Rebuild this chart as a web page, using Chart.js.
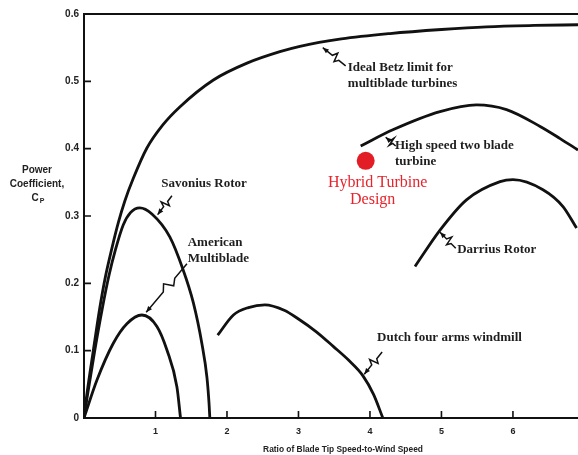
<!DOCTYPE html>
<html>
<head>
<meta charset="utf-8">
<script src="https://cdn.jsdelivr.net/npm/chart.js"></script>
<style>
    html, body { margin: 0; padding: 0; background: #fff; }
    canvas { display: block; }
</style>
</head>
<body>
<canvas id="myChart" width="578" height="455"></canvas>
<script>
// tip speed ratio (x) and power coefficient Cp
const betzX = [0, 0.04, 0.13, 0.22, 0.3, 0.39, 0.48, 0.57, 0.69, 0.88, 1.1, 1.34, 1.81, 2.28, 2.74, 3.02, 3.6, 4.28, 5.0, 5.63, 6.3, 6.91];
const betzCp = [0, 0.035, 0.10, 0.163, 0.21, 0.252, 0.29, 0.322, 0.356, 0.401, 0.435, 0.462, 0.502, 0.527, 0.544, 0.552, 0.563, 0.571, 0.577, 0.581, 0.583, 0.584];

const savoniusX = [0, 0.05, 0.15, 0.26, 0.35, 0.44, 0.55, 0.65, 0.78, 0.95, 1.2, 1.38, 1.53, 1.65, 1.72, 1.75, 1.76];
const savoniusCp = [0, 0.035, 0.10, 0.165, 0.212, 0.25, 0.287, 0.305, 0.312, 0.303, 0.269, 0.222, 0.171, 0.11, 0.06, 0.02, 0];

const americanX = [0, 0.18, 0.41, 0.6, 0.81, 1.02, 1.16, 1.3, 1.35];
const americanCp = [0, 0.056, 0.111, 0.14, 0.153, 0.136, 0.101, 0.046, 0];

const dutchX = [1.87, 2.09, 2.3, 2.53, 2.8, 3.0, 3.25, 3.49, 3.7, 3.9, 4.05, 4.18];
const dutchCp = [0.123, 0.153, 0.164, 0.168, 0.160, 0.147, 0.128, 0.106, 0.086, 0.063, 0.035, 0];

const highSpeedX = [3.87, 4.32, 4.98, 5.49, 5.91, 6.38, 6.66, 6.91];
const highSpeedCp = [0.404, 0.428, 0.455, 0.465, 0.458, 0.433, 0.415, 0.398];

const darriusX = [4.63, 4.98, 5.35, 5.82, 6.0, 6.42, 6.7, 6.89];
const darriusCp = [0.225, 0.279, 0.324, 0.351, 0.354, 0.339, 0.314, 0.282];

const hybridX = [3.94];
const hybridCp = [0.382];

const xTicks = [1, 2, 3, 4, 5, 6];
const yTicks = [0, 0.1, 0.2, 0.3, 0.4, 0.5, 0.6];
const yTickLabels = ['0', '0.1', '0.2', '0.3', '0.4', '0.5', '0.6'];

// curve labels with their pointers (tip on the curve, tail near the text)
const notes = [
    { text: ['Ideal Betz limit for', 'multiblade turbines'], x: 3.69, y: 0.521, tip: [3.34, 0.550], tail: [3.66, 0.523] },
    { text: ['High speed two blade', 'turbine'], x: 4.35, y: 0.405, tip: [4.22, 0.417], tail: [4.36, 0.404] },
    { text: ['Savonius Rotor'], x: 1.08, y: 0.348, tip: [1.03, 0.302], tail: [1.23, 0.330] },
    { text: ['American', 'Multiblade'], x: 1.45, y: 0.260, tip: [0.87, 0.157], tail: [1.44, 0.229] },
    { text: ['Dutch four arms windmill'], x: 4.10, y: 0.120, tip: [3.92, 0.065], tail: [4.17, 0.098] },
    { text: ['Darrius Rotor'], x: 5.22, y: 0.250, tip: [4.98, 0.276], tail: [5.20, 0.252] }
];

function pts(xs, ys) {
    return xs.map(function (x, i) { return { x: x, y: ys[i] }; });
}

function curve(xs, ys) {
    return {
        data: pts(xs, ys),
        showLine: true,
        borderColor: '#111',
        borderWidth: 2.8,
        pointRadius: 0,
        cubicInterpolationMode: 'monotone'
    };
}

function drawPointer(ctx, t, e) {
    const dx = e[0] - t[0], dy = e[1] - t[1];
    const len = Math.hypot(dx, dy);
    const ux = dx / len, uy = dy / len, nx = -uy, ny = ux;
    const steps = [[0, 0], [0.42, 0], [0.52, -5], [0.6, 4], [0.7, 0], [1, 0]];
    ctx.beginPath();
    steps.forEach(function (s, i) {
        const px = t[0] + dx * s[0] + nx * s[1];
        const py = t[1] + dy * s[0] + ny * s[1];
        if (i === 0) ctx.moveTo(px, py); else ctx.lineTo(px, py);
    });
    ctx.stroke();
    // little arrow head at the tip
    ctx.beginPath();
    ctx.moveTo(t[0], t[1]);
    ctx.lineTo(t[0] + ux * 6 + nx * 2.5, t[1] + uy * 6 + ny * 2.5);
    ctx.lineTo(t[0] + ux * 6 - nx * 2.5, t[1] + uy * 6 - ny * 2.5);
    ctx.closePath();
    ctx.fill();
}

const decor = {
    id: 'decor',
    afterDraw(chart) {
        const ctx = chart.ctx;
        const a = chart.chartArea;
        const xs = chart.scales.x, ys = chart.scales.y;
        ctx.save();
        ctx.strokeStyle = '#111';
        ctx.fillStyle = '#111';

        // top frame line
        ctx.lineWidth = 2;
        ctx.beginPath();
        ctx.moveTo(a.left, a.top);
        ctx.lineTo(a.right, a.top);
        ctx.stroke();

        // inner tick marks
        ctx.lineWidth = 1.6;
        ctx.beginPath();
        yTicks.forEach(function (v) {
            if (v === 0 || v === 0.6) return;
            const py = ys.getPixelForValue(v);
            ctx.moveTo(a.left, py);
            ctx.lineTo(a.left + 7, py);
        });
        xTicks.forEach(function (v) {
            const px = xs.getPixelForValue(v);
            ctx.moveTo(px, a.bottom);
            ctx.lineTo(px, a.bottom - 7);
        });
        ctx.stroke();

        // pointers
        ctx.lineWidth = 1.5;
        notes.forEach(function (n) {
            drawPointer(ctx,
                [xs.getPixelForValue(n.tip[0]), ys.getPixelForValue(n.tip[1])],
                [xs.getPixelForValue(n.tail[0]), ys.getPixelForValue(n.tail[1])]);
        });

        // curve labels
        ctx.fillStyle = '#1e1e1e';
        ctx.font = 'bold 13px "Liberation Serif"';
        ctx.textBaseline = 'middle';
        ctx.textAlign = 'left';
        notes.forEach(function (n) {
            const px = xs.getPixelForValue(n.x);
            const py = ys.getPixelForValue(n.y);
            n.text.forEach(function (line, i) {
                ctx.fillText(line, px, py + i * 16);
            });
        });

        // hybrid design label
        ctx.fillStyle = '#e8232b';
        ctx.font = '16px "Liberation Serif"';
        ctx.textAlign = 'center';
        const hx = xs.getPixelForValue(hybridX[0]) + 10;
        const hy = ys.getPixelForValue(hybridCp[0]);
        ctx.fillText('Hybrid Turbine', hx + 2, hy + 22);
        ctx.fillText('Design', hx - 3, hy + 39);

        // axis titles
        ctx.fillStyle = '#222';
        ctx.font = 'bold 10px "Liberation Sans"';
        ctx.textAlign = 'center';
        ctx.fillText('Power', 37, 170);
        ctx.fillText('Coefficient,', 37, 184);
        ctx.fillText('C', 35, 198);
        ctx.font = 'bold 7px "Liberation Sans"';
        ctx.fillText('P', 42, 201);
        ctx.font = 'bold 8.4px "Liberation Sans"';
        ctx.fillText('Ratio of Blade Tip Speed-to-Wind Speed', 343, 450);
        ctx.restore();
    }
};

new Chart(document.getElementById('myChart'), {
    type: 'scatter',
    data: {
        datasets: [
            curve(betzX, betzCp),
            curve(savoniusX, savoniusCp),
            curve(americanX, americanCp),
            curve(dutchX, dutchCp),
            curve(highSpeedX, highSpeedCp),
            curve(darriusX, darriusCp),
            {
                data: pts(hybridX, hybridCp),
                pointRadius: 9,
                pointBackgroundColor: '#e31d25',
                pointBorderWidth: 0
            }
        ]
    },
    options: {
        responsive: false,
        animation: false,
        layout: { autoPadding: false, padding: { top: 14, right: 0, bottom: 0, left: 0 } },
        plugins: { legend: { display: false }, tooltip: { enabled: false } },
        scales: {
            x: {
                type: 'linear',
                min: 0,
                max: 6.91,
                afterBuildTicks: function (scale) {
                    scale.ticks = xTicks.map(function (v) { return { value: v }; });
                },
                afterFit: function (scale) {
                    scale.height = 37;
                    scale.paddingLeft = 0;
                    scale.paddingRight = 0;
                },
                grid: { display: false, drawTicks: false },
                border: { display: true, color: '#111', width: 2 },
                ticks: {
                    padding: 8,
                    color: '#222',
                    font: { family: 'Liberation Sans', size: 9, weight: 'bold' },
                    callback: function (v) { return String(v); }
                }
            },
            y: {
                type: 'linear',
                min: 0,
                max: 0.6,
                afterBuildTicks: function (scale) {
                    scale.ticks = yTicks.map(function (v) { return { value: v }; });
                },
                afterFit: function (scale) {
                    scale.width = 84;
                    scale.paddingTop = 0;
                    scale.paddingBottom = 0;
                },
                grid: { display: false, drawTicks: false },
                border: { display: true, color: '#111', width: 2 },
                ticks: {
                    padding: 5,
                    color: '#222',
                    font: { family: 'Liberation Sans', size: 10, weight: 'bold' },
                    callback: function (v, i) { return yTickLabels[i]; }
                }
            }
        }
    },
    plugins: [decor]
});
</script>
</body>
</html>
